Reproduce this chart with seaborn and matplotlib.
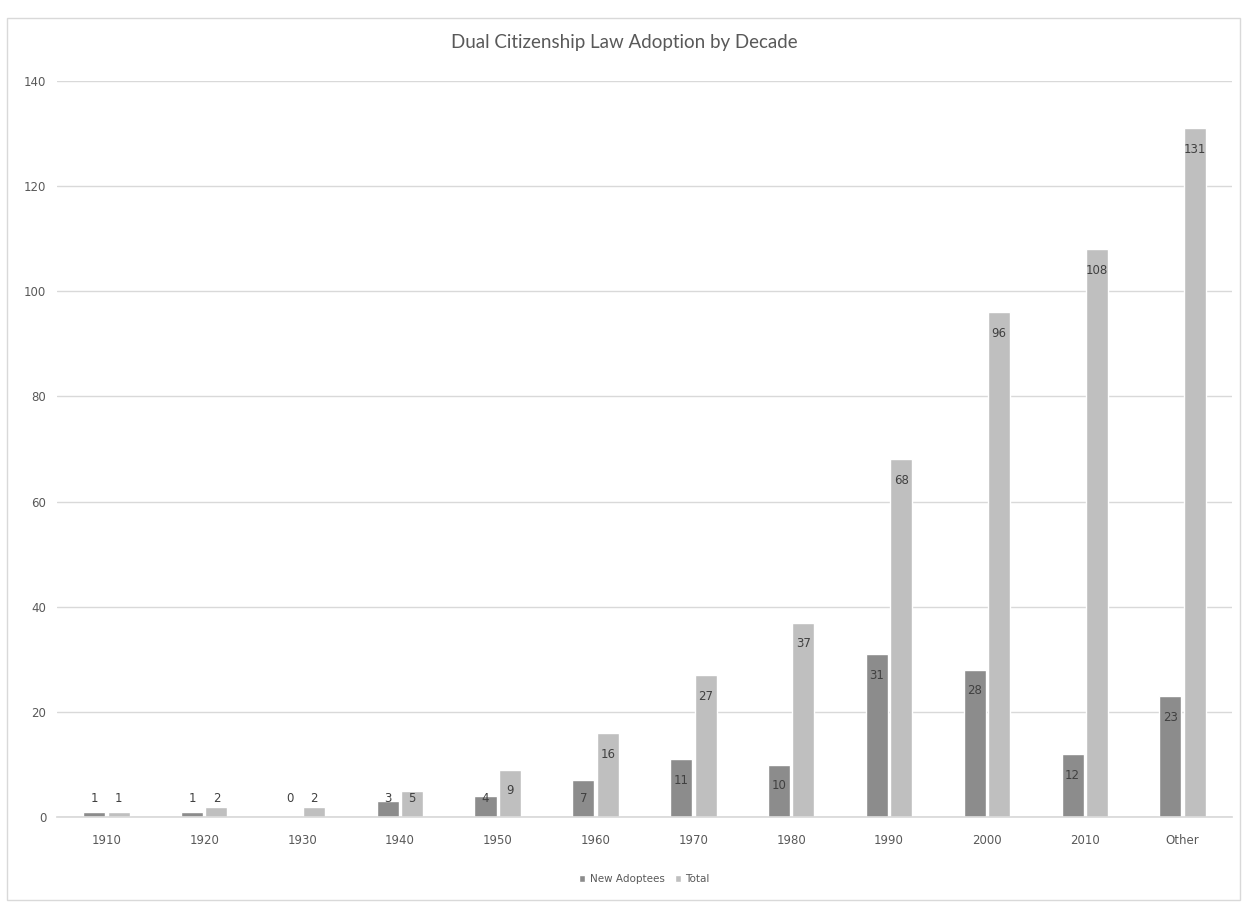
import matplotlib
matplotlib.use("Agg")
import matplotlib.pyplot as plt
import seaborn as sns
import pandas as pd
from matplotlib.patches import Rectangle

categories = ["1910", "1920", "1930", "1940", "1950", "1960", "1970", "1980", "1990", "2000", "2010", "Other"]
new_adoptees = [1, 1, 0, 3, 4, 7, 11, 10, 31, 28, 12, 23]
total = [1, 2, 2, 5, 9, 16, 27, 37, 68, 96, 108, 131]
series_names = ["New Adoptees", "Total"]
colors = ["#8c8c8c", "#bfbfbf"]
title = "Dual Citizenship Law Adoption by Decade"
yticks = [0, 20, 40, 60, 80, 100, 120, 140]

df = pd.DataFrame({
    "Decade": categories * 2,
    "Value": new_adoptees + total,
    "Series": [series_names[0]] * len(categories) + [series_names[1]] * len(categories),
})

sns.set_theme(style="white")
plt.rcParams["font.family"] = ["DejaVu Sans"]

fig = plt.figure(figsize=(12.49, 9.07), dpi=100)
ax = fig.add_axes([0.046, 0.099, 0.94, 0.812])

sns.barplot(data=df, x="Decade", y="Value", hue="Series", palette=colors,
            width=0.5, gap=0.1, ax=ax, saturation=1, legend=True)

ax.set_ylim(0, 140)
ax.set_yticks(yticks)
ax.yaxis.grid(True, color="#d9d9d9", linewidth=1)
ax.set_axisbelow(True)
for s in ["left", "right", "top"]:
    ax.spines[s].set_visible(False)
ax.spines["bottom"].set_color("#d9d9d9")
ax.tick_params(axis="both", length=0, labelsize=8.5, colors="#595959", pad=8)
ax.tick_params(axis="x", pad=12)
ax.set_xlabel("")
ax.set_ylabel("")

# data labels
for cont in ax.containers:
    for bar in cont:
        h = bar.get_height()
        y = max(h - 4.0, 3.6)
        ax.text(bar.get_x() + bar.get_width() / 2, y, f"{int(round(h))}",
                ha="center", va="center", fontsize=8.5, color="#404040")

fig.text(0.5, 0.953, title, ha="center", va="center", fontsize=13.5,
         color="#595959", family=["Lato", "DejaVu Sans"])

leg = ax.legend(loc="upper center", bbox_to_anchor=(0.5, -0.065), ncol=2, frameon=False,
                fontsize=7.5, handlelength=0.6, handleheight=0.6, handletextpad=0.4,
                columnspacing=1.0)
for t in leg.get_texts():
    t.set_color("#595959")

fig.patches.append(Rectangle((0.006, 0.008), 0.987, 0.972, transform=fig.transFigure,
                             fill=False, edgecolor="#d9d9d9", linewidth=1))

fig.savefig("out.png", dpi=100)
